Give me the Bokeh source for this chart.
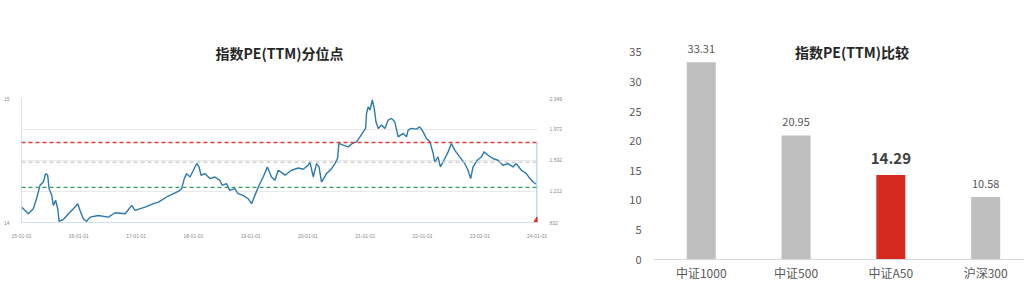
from datetime import datetime
from bokeh.plotting import figure
from bokeh.layouts import row, column
from bokeh.models import (Range1d, LinearAxis, FixedTicker, NumeralTickFormatter,
                          DatetimeTickFormatter, Span, Title)
from bokeh.embed import file_html
from bokeh.resources import INLINE
from bokeh.core.properties import value

# ---------------- data: left chart ----------------
dates = ["2015-01-01", "2015-01-24", "2015-02-14", "2015-03-17", "2015-04-07", "2015-04-29",
         "2015-05-20", "2015-06-04", "2015-06-17", "2015-06-26", "2015-07-13", "2015-07-23",
         "2015-08-07", "2015-08-20", "2015-08-29", "2015-09-25", "2015-10-27", "2015-11-28",
         "2015-12-26", "2016-01-09", "2016-01-30", "2016-02-20", "2016-03-13", "2016-05-05",
         "2016-07-08", "2016-08-20", "2016-10-23", "2016-12-04", "2016-12-25", "2017-02-27",
         "2017-04-21", "2017-05-23", "2017-07-25", "2017-09-27", "2017-10-18", "2017-11-04",
         "2017-11-19", "2017-12-10", "2018-01-01", "2018-01-22", "2018-02-06", "2018-02-19",
         "2018-03-15", "2018-04-16", "2018-05-18", "2018-06-19", "2018-07-03", "2018-07-31",
         "2018-08-21", "2018-09-22", "2018-10-13", "2018-11-14", "2018-12-16", "2019-01-07",
         "2019-01-28", "2019-02-19", "2019-03-22", "2019-04-18", "2019-05-14", "2019-06-05",
         "2019-06-26", "2019-07-28", "2019-08-08", "2019-09-19", "2019-11-01", "2019-12-02",
         "2020-01-03", "2020-01-14", "2020-02-04", "2020-02-25", "2020-03-12", "2020-03-28",
         "2020-04-29", "2020-05-31", "2020-06-22", "2020-07-08", "2020-07-17", "2020-08-13",
         "2020-09-14", "2020-10-10", "2020-11-06", "2020-11-28", "2020-12-19", "2021-01-03",
         "2021-01-09", "2021-01-20", "2021-01-31", "2021-02-15", "2021-02-27", "2021-03-10",
         "2021-03-25", "2021-04-15", "2021-05-06", "2021-05-27", "2021-06-17", "2021-07-08",
         "2021-07-30", "2021-08-30", "2021-09-21", "2021-10-01", "2021-10-22", "2021-11-23",
         "2021-12-14", "2022-01-05", "2022-01-26", "2022-02-17", "2022-03-10", "2022-03-20",
         "2022-04-10", "2022-04-25", "2022-05-18", "2022-06-13", "2022-07-04", "2022-07-25",
         "2022-08-26", "2022-09-27", "2022-10-18", "2022-11-04", "2022-11-19", "2022-12-16",
         "2023-01-11", "2023-01-28", "2023-02-23", "2023-03-26", "2023-04-27", "2023-05-29",
         "2023-06-30", "2023-08-01", "2023-08-22", "2023-09-23", "2023-10-25", "2023-11-09",
         "2023-12-07", "2023-12-28"]
index_values = [1020, 980, 939, 1000, 1123, 1287,
                1327, 1430, 1410, 1246, 1164, 1041,
                1103, 1000, 845, 869, 939, 1000,
                1062, 980, 878, 845, 898, 918,
                898, 951, 939, 1041, 980, 1020,
                1062, 1082, 1156, 1213, 1246, 1369,
                1430, 1389, 1471, 1553, 1512, 1410,
                1430, 1369, 1389, 1348, 1287, 1307,
                1225, 1246, 1185, 1164, 1123, 1062,
                1164, 1266, 1389, 1512, 1389, 1348,
                1471, 1430, 1410, 1471, 1499, 1483,
                1532, 1573, 1389, 1553, 1512, 1327,
                1430, 1491, 1553, 1615, 1799, 1778,
                1757, 1799, 1819, 1880, 1941, 1983,
                2167, 2248, 2208, 2331, 2229, 2064,
                1983, 2024, 1983, 2085, 2106, 2064,
                1880, 1922, 1880, 1962, 1983, 1974,
                2003, 1941, 1860, 1819, 1676, 1573,
                1634, 1512, 1594, 1696, 1799, 1717,
                1634, 1553, 1471, 1369, 1512, 1594,
                1634, 1696, 1655, 1615, 1594, 1532,
                1553, 1512, 1553, 1471, 1430, 1389,
                1327, 1300]
right_ticks = [832, 1212, 1592, 1972, 2349]
left_ticks = [14, 15]
year_ticks = ["2015-01-01", "2016-01-01", "2017-01-01", "2018-01-01", "2019-01-01",
              "2020-01-01", "2021-01-01", "2022-01-01", "2023-01-01", "2024-01-01"]
range_end = "2024-01-04"
level_high = 1811
level_mid = 1570
level_low = 1262
end_date = "2024-01-01"
end_line_top = 1811
end_line_bottom = 832
marker_value = 858

# ---------------- data: right chart ----------------
categories = ["中证1000", "中证500", "中证A50", "沪深300"]
pe_values = [33.31, 20.95, 14.29, 10.58]
highlight = "中证A50"

FONT = "Noto Sans CJK SC"


def ms(s):
    return datetime.strptime(s, "%Y-%m-%d").timestamp() * 1000.0


# ---------------- left figure ----------------
p1 = figure(width=620, height=289, x_axis_type="datetime", y_axis_location="right",
            output_backend="svg", toolbar_location=None,
            min_border_left=21, min_border_right=83, min_border_top=98, min_border_bottom=67,
            x_range=Range1d(ms(year_ticks[0]), ms(range_end)),
            y_range=Range1d(right_ticks[0], right_ticks[-1]))
p1.outline_line_color = None
p1.extra_y_ranges = {"pe": Range1d(left_ticks[0], left_ticks[-1])}

t1 = Title(text="指数PE(TTM)分位点", text_font=FONT, text_font_size="14px",
           text_font_style="bold", text_color="#262626", align="center",
           standoff=72, offset=4)
p1.add_layout(t1, "above")

p1.xgrid.visible = False
p1.ygrid.ticker = FixedTicker(ticks=right_ticks)
p1.ygrid.grid_line_color = "#e9e9e9"
p1.ygrid.grid_line_width = 1

ax_r = p1.yaxis[0]
ax_r.ticker = FixedTicker(ticks=right_ticks)
ax_r.formatter = NumeralTickFormatter(format="0,0")
ax_r.axis_line_color = None
ax_r.major_tick_line_color = None
ax_r.minor_tick_line_color = None
ax_r.major_label_text_font_size = "5px"
ax_r.major_label_text_color = "#8a8a8a"
ax_r.major_label_standoff = 6

ax_l = LinearAxis(y_range_name="pe", ticker=FixedTicker(ticks=left_ticks))
ax_l.axis_line_color = "#cfe0ee"
ax_l.major_tick_line_color = None
ax_l.minor_tick_line_color = None
ax_l.major_label_text_font_size = "5px"
ax_l.major_label_text_color = "#8a8a8a"
ax_l.major_label_standoff = 6
p1.add_layout(ax_l, "left")

ax_b = p1.xaxis[0]
ax_b.ticker = FixedTicker(ticks=[ms(t) for t in year_ticks])
fmt = "%y-%m-%d"
ax_b.formatter = DatetimeTickFormatter(years=fmt, months=fmt, days=fmt, hours=fmt,
                                       minutes=fmt, seconds=fmt, milliseconds=fmt,
                                       microseconds=fmt, hourmin=fmt, minsec=fmt)
ax_b.axis_line_color = "#cfe0ee"
ax_b.major_tick_line_color = None
ax_b.minor_tick_line_color = None
ax_b.major_label_text_font_size = "5px"
ax_b.major_label_text_color = "#8a8a8a"
ax_b.major_label_standoff = 5

for lvl, col in [(level_high, "#e23b32"), (level_mid, "#c4c4c4"), (level_low, "#34a05a")]:
    p1.add_layout(Span(location=lvl, dimension="width", line_color=col,
                       line_dash="4 3", line_width=1.3))

p1.line([ms(d) for d in dates], index_values, line_color="#2b79ad", line_width=1.4)
p1.segment(x0=[ms(end_date)], y0=[end_line_top], x1=[ms(end_date)], y1=[end_line_bottom],
           line_color="#a9d2ea", line_width=1.5)
p1.scatter([ms(end_date)], [marker_value], marker="triangle", size=6,
           fill_color="#e2231a", line_color="#e2231a")

# ---------------- right figure ----------------
xs = list(range(len(categories)))
colors = ["#d42a20" if c == highlight else "#bfbfbf" for c in categories]

p2 = figure(width=404, height=289, output_backend="svg", toolbar_location=None,
            min_border_left=33, min_border_right=0, min_border_top=40, min_border_bottom=30,
            x_range=Range1d(-0.504, 3.41), y_range=Range1d(0, 37))
p2.outline_line_color = None
p2.grid.visible = False

p2.vbar(x=xs, top=pe_values, width=0.306, fill_color=colors, line_color=None)

norm = [i for i, c in enumerate(categories) if c != highlight]
hi = [i for i, c in enumerate(categories) if c == highlight]
p2.text(x=[xs[i] for i in norm], y=[pe_values[i] for i in norm],
        text=[f"{pe_values[i]:.2f}" for i in norm],
        text_font=value(FONT), text_font_size="11px", text_color="#595959",
        text_align="center", text_baseline="middle", y_offset=-13)
p2.text(x=[xs[i] for i in hi], y=[pe_values[i] for i in hi],
        text=[f"{pe_values[i]:.2f}" for i in hi],
        text_font=value(FONT), text_font_size="15px", text_font_style="bold",
        text_color="#404040", text_align="center", text_baseline="middle", y_offset=-16)
p2.text(x=[1.59], y=[35], text=["指数PE(TTM)比较"],
        text_font=value(FONT), text_font_size="14px", text_font_style="bold",
        text_color="#262626", text_align="center", text_baseline="middle")

ya = p2.yaxis[0]
ya.ticker = FixedTicker(ticks=[0, 5, 10, 15, 20, 25, 30, 35])
ya.axis_line_color = None
ya.major_tick_line_color = None
ya.minor_tick_line_color = None
ya.major_label_text_font = FONT
ya.major_label_text_font_size = "11px"
ya.major_label_text_color = "#595959"
ya.major_label_standoff = 6

xa = p2.xaxis[0]
xa.ticker = FixedTicker(ticks=xs)
xa.major_label_overrides = {i: c for i, c in zip(xs, categories)}
xa.axis_line_color = "#d9d9d9"
xa.major_tick_line_color = None
xa.minor_tick_line_color = None
xa.major_label_text_font = FONT
xa.major_label_text_font_size = "12px"
xa.major_label_text_color = "#595959"
xa.major_label_standoff = -2

layout = row(column(p1), column(p2), spacing=0)
open("out.html", "w").write(file_html(layout, INLINE))
